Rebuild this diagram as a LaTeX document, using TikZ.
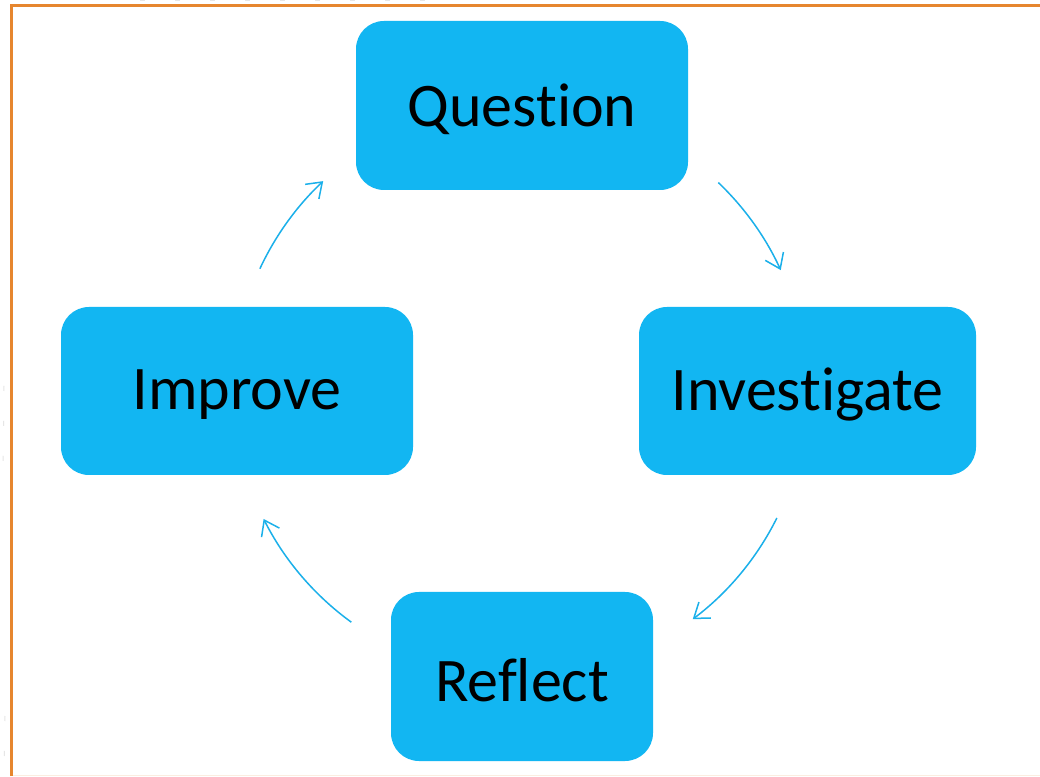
\documentclass[tikz,border=0pt]{standalone}
\usepackage{fontspec}
\setmainfont[Ligatures={NoCommon}, RawFeature={-liga;-clig}]{Carlito}
\usetikzlibrary{arrows.meta,calc}
\definecolor{boxblue}{RGB}{18,182,242}
\definecolor{arrblue}{RGB}{27,176,234}
\definecolor{frameorange}{RGB}{230,134,46}
\definecolor{faint}{RGB}{230,230,230}
\newcommand{\stagetext}[1]{\raisebox{-4pt}[\height][\depth]{#1}}
\tikzset{
  stage/.style={rectangle, rounded corners=28pt, fill=boxblue, draw=none,
    inner sep=0pt, text=black, font=\fontsize{62}{70}\selectfont},
  cyc/.style={draw=arrblue, line width=1.5pt,
    -{Straight Barb[length=14pt,width=20pt,line width=1.5pt]}},
  frameline/.style={draw=frameorange, line width=3.5pt},
  ghost/.style={draw=faint, line width=1pt, dash pattern=on 5pt off 30pt}
}
\begin{document}
\begin{tikzpicture}[x=1pt,y=1pt]
\useasboundingbox (0,0) rectangle (1040,776);
\fill[white] (0,0) rectangle (1040,776);
% faint background decoration outside the frame
\draw[ghost] (140,775) -- (450,775);
\draw[ghost] (4,390) -- (3,300);
\draw[ghost] (5,60) -- (4,0);
% frame
\draw[frameline] (11.5,0) -- (11.5,770.5) -- (1040,770.5);
\draw[draw=frameorange!15, line width=1pt] (13,1) -- (1040,1);
% stages
\node[stage, minimum width=332pt, minimum height=169pt] (q) at (522,670.5) {\stagetext{Question}};
\node[stage, minimum width=337pt, minimum height=168pt] (i) at (807.5,385) {\stagetext{Investigate}};
\node[stage, minimum width=262pt, minimum height=169pt] (r) at (522,99.5) {\stagetext{Reflect}};
\node[stage, minimum width=352pt, minimum height=168pt] (m) at (237,385) {\stagetext{Improve}};
% cycle arrows (arcs of one circle)
\coordinate (c) at (520,386);
\coordinate (qi) at ($(c)+(46.3:287)$);
\coordinate (ir) at ($(c)+(-26.5:287)$);
\coordinate (rm) at ($(c)+(-126:287)$);
\coordinate (mq) at ($(c)+(155:287)$);
\draw[cyc] (qi) arc[start angle=46.3, end angle=24.7, radius=287];
\draw[cyc] (ir) arc[start angle=-26.5, end angle=-53, radius=287];
\draw[cyc] (rm) arc[start angle=-126, end angle=-153.3, radius=287];
\draw[cyc] (mq) arc[start angle=155, end angle=133.3, radius=287];
\end{tikzpicture}
\end{document}
